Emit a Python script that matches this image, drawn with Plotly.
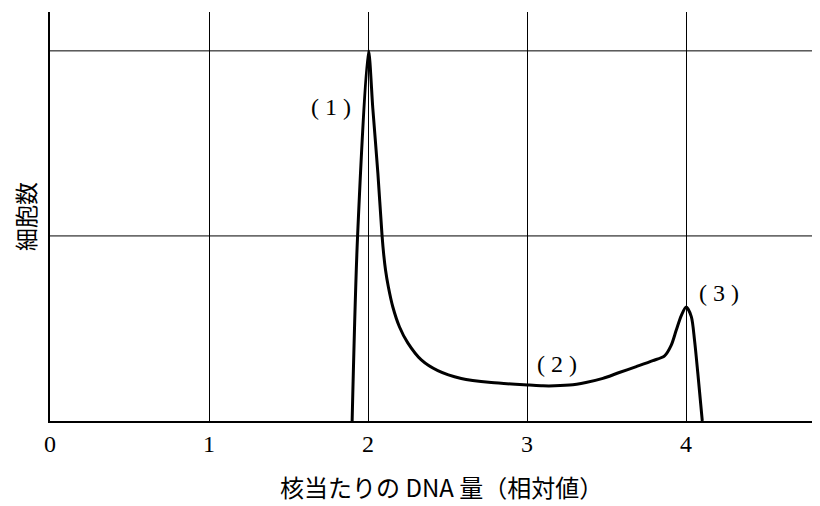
import plotly.graph_objects as go

# DNA amount per nucleus (relative) and cell count (relative)
dna = [1.900, 1.934, 2.003, 2.030, 2.062, 2.088, 2.099, 2.110, 2.128, 2.156, 2.198,
       2.250, 2.335, 2.439, 2.586, 2.775, 3.016, 3.100, 3.267, 3.370, 3.477, 3.580,
       3.687, 3.791, 3.865, 3.907, 3.938, 3.970, 4.001, 4.033, 4.053, 4.074, 4.102]
cells = [0.000, 0.497, 1.000, 0.845, 0.669, 0.502, 0.448, 0.408, 0.362, 0.308, 0.254,
         0.211, 0.165, 0.136, 0.115, 0.104, 0.097, 0.095, 0.097, 0.104, 0.115, 0.131,
         0.147, 0.163, 0.176, 0.205, 0.245, 0.285, 0.308, 0.282, 0.219, 0.129, 0.000]

tick_vals = [0, 1, 2, 3, 4]
tick_text = ["0", "1", "2", "3", "4"]
hgrid = [0.5, 1.0]

labels = ["( 1 )", "( 2 )", "( 3 )"]
label_x = [1.764, 3.186, 4.204]
label_y = [0.848, 0.154, 0.345]

x_title = "核当たりの DNA 量（相対値）"
y_title = "細胞数"

fig = go.Figure()
fig.add_trace(go.Scatter(x=dna, y=cells, mode="lines",
                         line=dict(color="black", width=3, shape="spline", smoothing=0.8),
                         showlegend=False, hoverinfo="skip"))

for t, x, y in zip(labels, label_x, label_y):
    fig.add_annotation(x=x, y=y, text=t, showarrow=False,
                       font=dict(family="Liberation Serif", size=24, color="black"))

# x-axis title placed as in the reference (slightly right of centre)
fig.add_annotation(xref="paper", yref="paper", x=0.514, y=-0.161, text=x_title,
                   showarrow=False, xanchor="center", yanchor="middle",
                   font=dict(family="Noto Sans CJK JP", size=24, color="black"))

for h in hgrid:
    fig.add_shape(type="line", xref="paper", x0=0, x1=1, yref="y", y0=h, y1=h,
                  line=dict(color="black", width=1), layer="below")

fig.update_layout(
    width=804, height=498,
    margin=dict(l=42, r=0, t=4, b=85),
    paper_bgcolor="white", plot_bgcolor="white",
    xaxis=dict(range=[0, 4.792], tickvals=tick_vals, ticktext=tick_text,
               showgrid=True, gridcolor="black", gridwidth=1,
               showline=True, linecolor="black", linewidth=1.5,
               zeroline=False, ticks="",
               tickfont=dict(family="Liberation Serif", size=24, color="black")),
    yaxis=dict(range=[0, 1.105], showgrid=False, showticklabels=False,
               showline=True, linecolor="black", linewidth=1.5,
               zeroline=False, ticks="",
               title=dict(text=y_title, standoff=8,
                          font=dict(family="Noto Sans CJK JP", size=23, color="black"))),
)

fig.write_html("out.html")
